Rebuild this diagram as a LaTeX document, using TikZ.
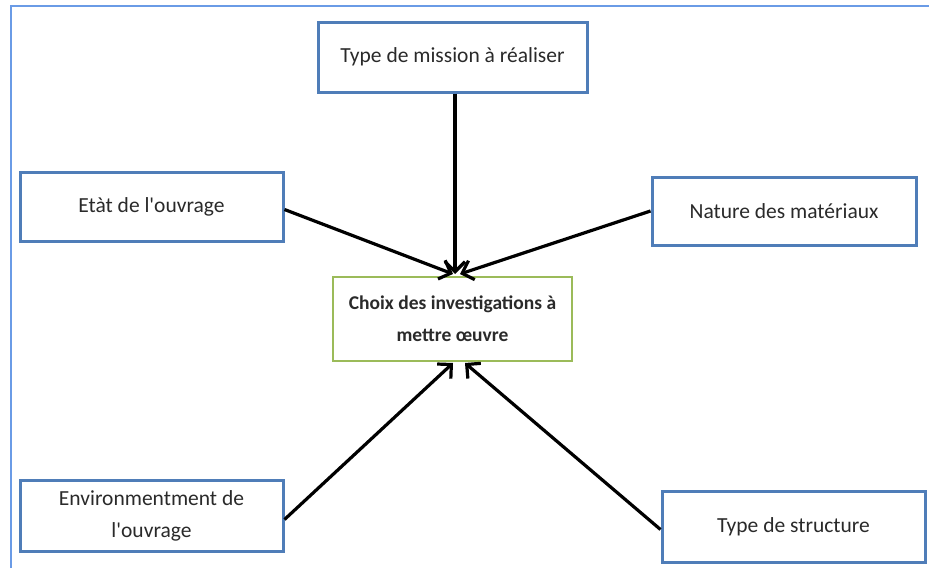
\documentclass[tikz,border=0pt]{standalone}
\usepackage{fontspec}
\setmainfont{Carlito}
\usetikzlibrary{arrows.meta}
\definecolor{boxblue}{HTML}{4F7DB8}
\definecolor{framblue}{HTML}{6A9BE6}
\definecolor{boxgreen}{HTML}{9BBB59}
\definecolor{txt}{HTML}{2A2A2A}
\tikzset{
  sidebox/.style={draw=boxblue, line width=3pt, fill=white, inner sep=0pt, align=center, text=txt, font=\fontsize{21.5}{32}\selectfont},
  mainbox/.style={draw=boxgreen, line width=2.4pt, fill=white, inner sep=0pt, align=center, text=txt, font=\fontsize{19.5}{32}\selectfont\bfseries},
  conn/.style={line width=3.2pt, black, -{Straight Barb[length=10pt,width=20pt,line width=3.2pt]}},
}
\begin{document}
\begin{tikzpicture}[x=1pt,y=-1pt]
\useasboundingbox (0,0) rectangle (929,568);
\fill[white] (0,0) rectangle (929,568);
\draw[framblue, line width=2.4pt] (11,568) -- (11,6) -- (929,6);
\node[sidebox, minimum width=269pt, minimum height=70pt] (top) at (452.5,57) {Type de mission à réaliser};
\node[sidebox, minimum width=263pt, minimum height=69pt] (etat) at (151.5,206.5) {Etàt de l\textquotesingle ouvrage};
\node[sidebox, minimum width=264pt, minimum height=68pt] (nature) at (784,211) {Nature des matériaux};
\node[mainbox, minimum width=239pt, minimum height=84pt] (c) at (452.5,319) {Choix des investigations à\\mettre œuvre};
\node[sidebox, minimum width=263pt, minimum height=71pt] (env) at (151.5,515.5) {Environmentment de\\l\textquotesingle ouvrage};
\node[sidebox, minimum width=263pt, minimum height=71pt] (struct) at (793.5,526.5) {Type de structure};
\coordinate (t1) at (455,274);
\coordinate (t2) at (453,274);
\coordinate (t3) at (460,274);
\coordinate (b1) at (453,363);
\coordinate (b2) at (465,363);
\draw[conn] (top.south -| t1) -- (t1);
\draw[conn] (etat.east) ++(0,3) coordinate (e1) (e1) -- (t2);
\draw[conn] (nature.west) coordinate (n1) (n1) -- (t3);
\draw[conn] (env.east) ++(0,4) coordinate (v1) (v1) -- (b1);
\draw[conn] (struct.west) ++(0,3) coordinate (s1) (s1) -- (b2);
\end{tikzpicture}
\end{document}
